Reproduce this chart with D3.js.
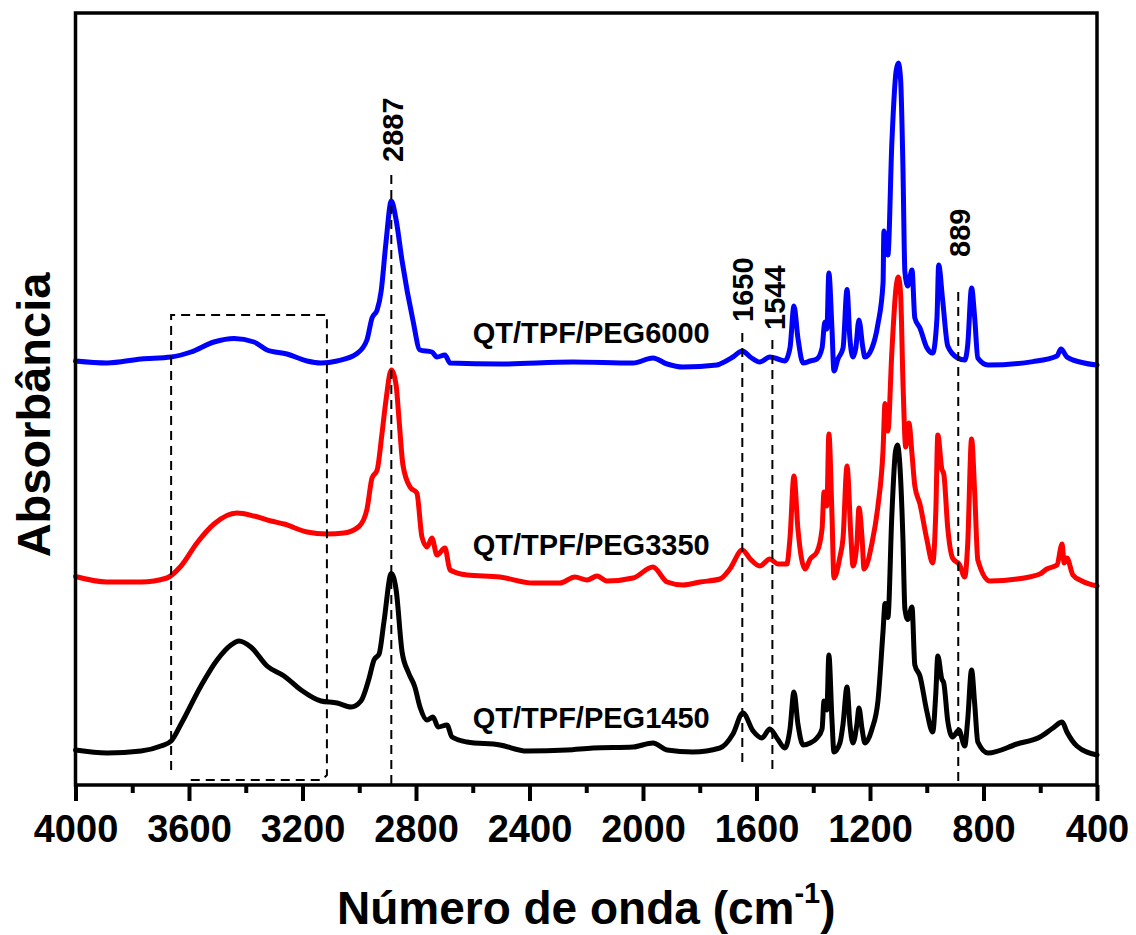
<!DOCTYPE html>
<html>
<head>
<meta charset="utf-8">
<script src="https://cdn.jsdelivr.net/npm/d3@7"></script>
<style>
  html, body { margin: 0; padding: 0; background: #fff; }
  svg { display: block; font-family: "Liberation Sans", Arial, Helvetica, sans-serif; font-weight: bold; }
</style>
</head>
<body>
<svg id="chart" width="1136" height="935"></svg>
<script>
// FTIR spectra, [wavenumber (cm-1), absorbance (a.u., stacked with offsets)]
const peg6000 = [
  [4000,4.24],[3889,4.22],[3769,4.26],[3663,4.28],[3593,4.33],[3512,4.43],[3441,4.465],[3371,4.43],
  [3325,4.35],[3255,4.31],[3184,4.24],[3135,4.22],[3078,4.24],[3008,4.315],[2973,4.45],[2955,4.67],
  [2937,4.75],[2923,4.935],[2906,5.42],[2887,5.84],[2870,5.65],[2849,5.24],[2811,4.65],[2786,4.35],
  [2744,4.33],[2726,4.28],[2698,4.30],[2680,4.22],[2504,4.21],[2247,4.23],[2035,4.22],[1965,4.27],
  [1915,4.21],[1859,4.18],[1739,4.20],[1729,4.21],[1683,4.28],[1650,4.34],[1622,4.28],[1588,4.23],
  [1553,4.28],[1535,4.27],[1500,4.24],[1482,4.37],[1468,4.79],[1454,4.47],[1436,4.22],[1411,4.24],
  [1387,4.26],[1369,4.37],[1359,4.63],[1352,4.56],[1345,5.12],[1334,4.56],[1327,4.14],[1313,4.26],
  [1295,4.37],[1281,4.955],[1271,4.47],[1260,4.28],[1250,4.37],[1239,4.65],[1225,4.37],[1218,4.28],
  [1193,4.37],[1172,4.61],[1154,5.02],[1151,5.54],[1137,5.30],[1123,6.42],[1108,7.14],[1100,7.22],
  [1092,7.05],[1084,6.19],[1077,5.13],[1067,4.99],[1052,5.15],[1042,4.67],[1024,4.57],[1000,4.375],
  [979,4.32],[964,4.67],[958,5.20],[944,4.85],[926,4.39],[891,4.27],[866,4.25],[856,4.39],[842,4.97],
  [831,4.67],[820,4.27],[784,4.20],[626,4.234],[541,4.29],[527,4.36],[506,4.28],[460,4.23],[400,4.20]
];

const peg3350 = [
  [4000,2.085],[3889,2.03],[3769,2.03],[3678,2.07],[3628,2.19],[3572,2.42],[3512,2.61],[3431,2.72],
  [3371,2.69],[3311,2.64],[3265,2.61],[3184,2.53],[3114,2.51],[3054,2.52],[3001,2.585],[2973,2.755],
  [2955,3.07],[2937,3.15],[2920,3.51],[2906,3.845],[2887,4.15],[2870,3.995],[2860,3.66],[2846,3.20],
  [2821,2.98],[2797,2.92],[2779,2.48],[2761,2.38],[2744,2.47],[2726,2.30],[2698,2.37],[2680,2.15],
  [2620,2.10],[2504,2.08],[2388,2.02],[2293,2.02],[2240,2.08],[2197,2.05],[2162,2.09],[2127,2.04],
  [2035,2.07],[1965,2.18],[1915,2.03],[1859,2.00],[1799,2.03],[1729,2.06],[1694,2.16],[1650,2.35],
  [1622,2.26],[1588,2.19],[1553,2.26],[1524,2.21],[1493,2.21],[1482,2.47],[1468,3.09],[1454,2.56],
  [1429,2.16],[1411,2.26],[1387,2.33],[1369,2.56],[1362,2.93],[1352,2.79],[1345,3.51],[1334,2.70],
  [1327,2.07],[1306,2.28],[1295,2.47],[1281,3.19],[1267,2.47],[1260,2.19],[1246,2.42],[1239,2.77],
  [1228,2.47],[1221,2.16],[1193,2.42],[1172,2.79],[1154,3.35],[1147,3.815],[1137,3.54],[1123,4.33],
  [1108,4.98],[1100,5.08],[1092,4.90],[1084,4.05],[1074,3.38],[1063,3.62],[1052,3.31],[1042,2.99],
  [1024,2.81],[1000,2.46],[979,2.22],[968,2.74],[961,3.50],[947,3.16],[940,3.11],[926,2.57],[909,2.27],
  [884,2.20],[866,2.08],[856,2.39],[842,3.46],[831,2.92],[820,2.25],[777,2.04],[682,2.06],
  [601,2.11],[577,2.16],[541,2.20],[523,2.41],[516,2.22],[506,2.27],[485,2.10],[453,2.04],[400,1.99]
];

const peg1450 = [
  [4000,0.35],[3889,0.32],[3769,0.34],[3699,0.39],[3663,0.44],[3628,0.61],[3558,0.99],[3501,1.25],
  [3452,1.40],[3424,1.44],[3382,1.38],[3325,1.19],[3265,1.09],[3205,0.95],[3135,0.84],[3078,0.82],
  [3029,0.78],[2994,0.84],[2966,1.06],[2948,1.25],[2930,1.31],[2913,1.63],[2887,2.115],[2870,1.95],
  [2849,1.33],[2826,1.12],[2804,0.98],[2786,0.78],[2761,0.65],[2740,0.68],[2722,0.58],[2691,0.60],
  [2673,0.48],[2620,0.43],[2504,0.40],[2409,0.34],[2268,0.35],[2176,0.37],[2035,0.38],[1965,0.42],
  [1915,0.35],[1824,0.33],[1729,0.37],[1683,0.51],[1648,0.72],[1612,0.54],[1581,0.47],[1553,0.56],
  [1528,0.47],[1500,0.37],[1482,0.56],[1468,0.93],[1454,0.61],[1436,0.40],[1411,0.42],[1387,0.47],
  [1369,0.56],[1362,0.84],[1352,0.75],[1345,1.30],[1334,0.65],[1327,0.33],[1306,0.42],[1295,0.61],
  [1281,0.98],[1271,0.61],[1260,0.42],[1246,0.61],[1239,0.77],[1228,0.56],[1218,0.42],[1193,0.56],
  [1172,0.84],[1154,1.54],[1147,1.815],[1137,1.675],[1123,2.70],[1110,3.34],[1103,3.40],[1096,3.25],
  [1084,2.47],[1077,1.76],[1067,1.655],[1052,1.78],[1042,1.20],[1024,1.09],[1000,0.74],[979,0.53],
  [968,0.92],[961,1.29],[947,1.06],[940,1.02],[926,0.64],[909,0.48],[887,0.55],[866,0.39],[856,0.64],
  [842,1.15],[831,0.81],[820,0.43],[784,0.32],[682,0.41],[601,0.48],[555,0.57],[523,0.63],
  [506,0.53],[471,0.39],[400,0.30]
];

const seriesNames  = ["QT/TPF/PEG6000", "QT/TPF/PEG3350", "QT/TPF/PEG1450"];
const seriesColors = ["#0000ff", "#ff0000", "#000000"];
const markedPeaks  = [2887, 1650, 1544, 889];
const xTicks       = [4000, 3600, 3200, 2800, 2400, 2000, 1600, 1200, 800, 400];
const xMinorTicks  = [3800, 3400, 3000, 2600, 2200, 1800, 1400, 1000, 600];

// ---- layout ----
const plot = { left: 75.5, right: 1097, top: 13, bottom: 785 };
const svg = d3.select("#chart");

const x = d3.scaleLinear().domain([4000, 400]).range([plot.left, plot.right]);
const y = d3.scaleLinear().domain([0, 7.72]).range([plot.bottom, plot.top]);

// spectra
const line = d3.line()
  .x(d => x(d[0]))
  .y(d => y(d[1]))
  .curve(d3.curveMonotoneX);

const spectra = [peg6000, peg3350, peg1450];
svg.append("g").attr("class", "spectra")
  .selectAll("path")
  .data(spectra)
  .join("path")
  .attr("d", line)
  .attr("fill", "none")
  .attr("stroke", (d, i) => seriesColors[i])
  .attr("stroke-width", 5)
  .attr("stroke-linejoin", "round")
  .attr("stroke-linecap", "round");

// sample names, placed beside each trace
const nameAnchor = [[2600, 4.42], [2600, 2.30], [2600, 0.57]];
svg.append("g").selectAll("text")
  .data(seriesNames)
  .join("text")
  .attr("x", (d, i) => x(nameAnchor[i][0]))
  .attr("y", (d, i) => y(nameAnchor[i][1]))
  .attr("font-size", 29)
  .attr("fill", "#000")
  .text(d => d);

// dashed guide lines at the assigned bands (top / bottom in px)
const guideExtent = { 2887: [175, 785], 1650: [333, 767], 1544: [340, 774], 889: [292, 785] };
const labelPlace  = { 2887: [12, 162], 1650: [11, 322], 1544: [13, 330], 889: [12, 257] };
const guides = svg.append("g").attr("class", "guides");
guides.selectAll("line")
  .data(markedPeaks)
  .join("line")
  .attr("x1", d => x(d)).attr("x2", d => x(d))
  .attr("y1", d => guideExtent[d][0]).attr("y2", d => guideExtent[d][1])
  .attr("stroke", "#000").attr("stroke-width", 2)
  .attr("stroke-dasharray", "9,6");
guides.selectAll("text")
  .data(markedPeaks)
  .join("text")
  .attr("transform", d => `translate(${x(d) + labelPlace[d][0]},${labelPlace[d][1]}) rotate(-90)`)
  .attr("font-size", 29)
  .attr("fill", "#000")
  .text(d => d);

// dashed box around the O-H / N-H stretching region
const boxWn = [3663, 3114];
const bx0 = x(boxWn[0]), bx1 = x(boxWn[1]);
const by0 = 315, by1 = 780;
svg.append("path")
  .attr("d", `M${bx0},${by1 - 10}L${bx0},${by0}L${bx1},${by0}L${bx1},${by1 - 5}L${bx1 - 5},${by1}L${bx0 + 15},${by1}`)
  .attr("fill", "none")
  .attr("stroke", "#000").attr("stroke-width", 2)
  .attr("stroke-dasharray", "9,6");

// frame
svg.append("rect")
  .attr("x", plot.left).attr("y", plot.top)
  .attr("width", plot.right - plot.left).attr("height", plot.bottom - plot.top)
  .attr("fill", "none").attr("stroke", "#000").attr("stroke-width", 3.5);

// x axis: major and minor ticks
const xAxis = d3.axisBottom(x).tickValues(xTicks).tickFormat(d3.format("d"))
  .tickSize(16).tickSizeOuter(0).tickPadding(14);
const gx = svg.append("g").attr("transform", `translate(0,${plot.bottom})`).call(xAxis);
gx.select(".domain").remove();
gx.selectAll(".tick line").attr("stroke", "#000").attr("stroke-width", 4);
gx.selectAll(".tick text").attr("font-size", 38).attr("fill", "#000")
  .attr("font-family", "Liberation Sans, Arial, sans-serif").attr("font-weight", "bold");

const xMinor = d3.axisBottom(x).tickValues(xMinorTicks).tickSize(8).tickSizeOuter(0).tickFormat("");
const gm = svg.append("g").attr("transform", `translate(0,${plot.bottom})`).call(xMinor);
gm.select(".domain").remove();
gm.selectAll(".tick line").attr("stroke", "#000").attr("stroke-width", 4);

// axis titles
const xt = svg.append("text")
  .attr("x", (plot.left + plot.right) / 2)
  .attr("y", 924)
  .attr("text-anchor", "middle")
  .attr("font-size", 46)
  .attr("fill", "#000");
xt.append("tspan").text("Número de onda (cm");
xt.append("tspan").attr("font-size", 29).attr("dy", -21).text("-1");
xt.append("tspan").attr("dy", 21).text(")");

svg.append("text")
  .attr("transform", "translate(50,415) rotate(-90)")
  .attr("text-anchor", "middle")
  .attr("font-size", 47)
  .attr("fill", "#000")
  .text("Absorbância");
</script>
</body>
</html>
